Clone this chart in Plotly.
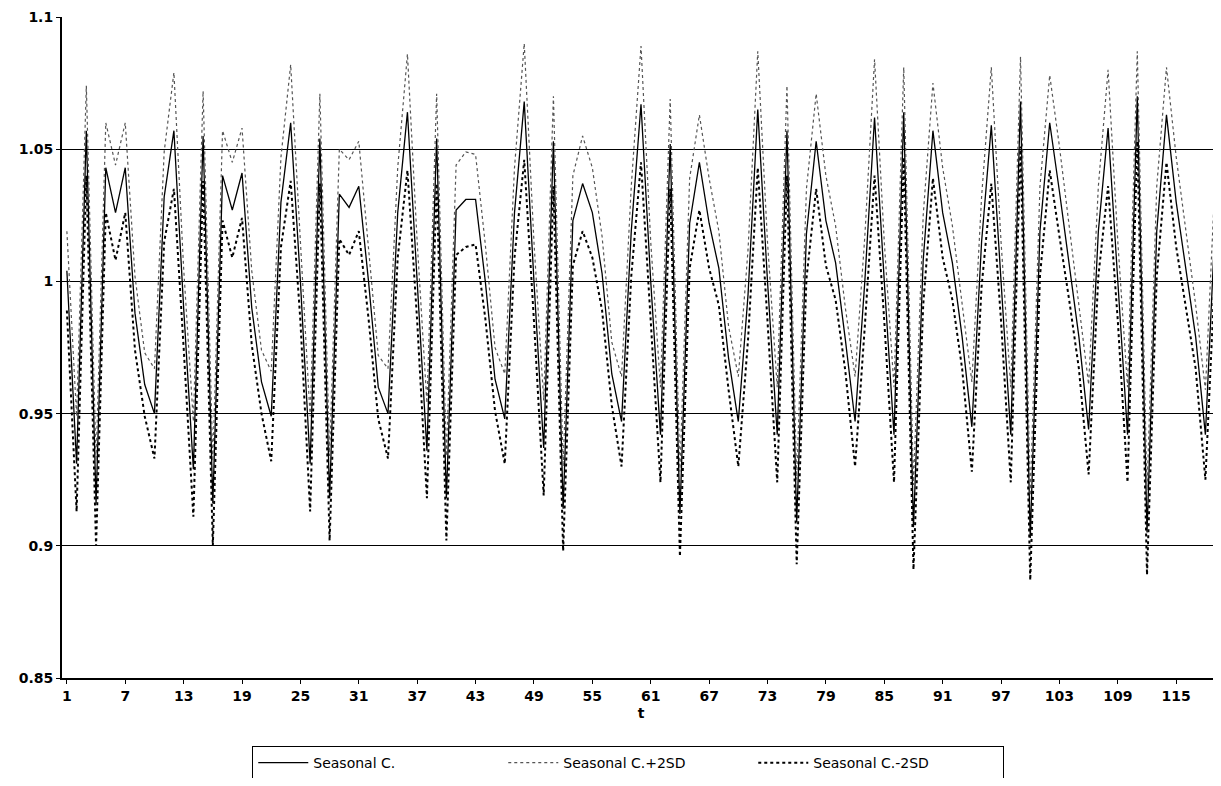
import plotly.graph_objects as go

t = list(range(1, 120))

seasonal = [
    1.004, 0.931, 1.057, 0.916, 1.043, 1.026, 1.043, 0.988, 0.961, 0.950, 1.032, 1.057,
    0.990, 0.929, 1.055, 0.916, 1.040, 1.027, 1.041, 0.990, 0.962, 0.949, 1.030, 1.060,
    1.000, 0.931, 1.054, 0.918, 1.033, 1.028, 1.036, 1.000, 0.960, 0.950, 1.026, 1.064,
    1.000, 0.936, 1.054, 0.918, 1.027, 1.031, 1.031, 1.000, 0.963, 0.948, 1.026, 1.068,
    1.000, 0.937, 1.053, 0.914, 1.023, 1.037, 1.026, 1.003, 0.965, 0.947, 1.019, 1.067,
    1.000, 0.942, 1.052, 0.912, 1.022, 1.045, 1.022, 1.005, 0.971, 0.947, 0.995, 1.065,
    1.000, 0.942, 1.057, 0.909, 1.018, 1.053, 1.023, 1.007, 0.978, 0.947, 1.000, 1.062,
    1.000, 0.942, 1.064, 0.907, 1.008, 1.057, 1.026, 1.007, 0.979, 0.945, 1.015, 1.059,
    1.000, 0.942, 1.068, 0.903, 1.019, 1.060, 1.034, 1.007, 0.979, 0.944, 1.019, 1.058,
    1.000, 0.942, 1.070, 0.905, 1.019, 1.063, 1.030, 1.004, 0.979, 0.942, 1.022,
]

upper = [
    1.019, 0.949, 1.074, 0.932, 1.060, 1.044, 1.060, 1.002, 0.973, 0.967, 1.049, 1.079,
    1.005, 0.947, 1.072, 0.932, 1.057, 1.045, 1.058, 1.004, 0.974, 0.966, 1.047, 1.082,
    1.015, 0.949, 1.071, 0.934, 1.050, 1.046, 1.053, 1.014, 0.972, 0.967, 1.043, 1.086,
    1.015, 0.954, 1.071, 0.934, 1.044, 1.049, 1.048, 1.014, 0.975, 0.965, 1.043, 1.090,
    1.015, 0.955, 1.070, 0.930, 1.040, 1.055, 1.043, 1.017, 0.977, 0.964, 1.036, 1.089,
    1.015, 0.960, 1.069, 0.928, 1.039, 1.063, 1.039, 1.019, 0.983, 0.964, 1.012, 1.087,
    1.015, 0.960, 1.074, 0.925, 1.035, 1.071, 1.040, 1.021, 0.990, 0.964, 1.017, 1.084,
    1.015, 0.960, 1.081, 0.923, 1.025, 1.075, 1.043, 1.021, 0.991, 0.962, 1.032, 1.081,
    1.015, 0.960, 1.085, 0.919, 1.036, 1.078, 1.051, 1.021, 0.991, 0.961, 1.036, 1.080,
    1.015, 0.960, 1.087, 0.921, 1.036, 1.081, 1.047, 1.018, 0.991, 0.959, 1.039,
]

lower = [
    0.989, 0.913, 1.040, 0.900, 1.026, 1.008, 1.026, 0.974, 0.949, 0.933, 1.015, 1.035,
    0.975, 0.911, 1.038, 0.900, 1.023, 1.009, 1.024, 0.976, 0.950, 0.932, 1.013, 1.038,
    0.985, 0.913, 1.037, 0.902, 1.016, 1.010, 1.019, 0.986, 0.948, 0.933, 1.009, 1.042,
    0.985, 0.918, 1.037, 0.902, 1.010, 1.013, 1.014, 0.986, 0.951, 0.931, 1.009, 1.046,
    0.985, 0.919, 1.036, 0.898, 1.006, 1.019, 1.009, 0.989, 0.953, 0.930, 1.002, 1.045,
    0.985, 0.924, 1.035, 0.896, 1.005, 1.027, 1.005, 0.991, 0.959, 0.930, 0.978, 1.043,
    0.985, 0.924, 1.040, 0.893, 1.001, 1.035, 1.006, 0.993, 0.966, 0.930, 0.983, 1.040,
    0.985, 0.924, 1.047, 0.891, 0.991, 1.039, 1.009, 0.993, 0.967, 0.928, 0.998, 1.037,
    0.985, 0.924, 1.051, 0.887, 1.002, 1.042, 1.017, 0.993, 0.967, 0.927, 1.002, 1.036,
    0.985, 0.924, 1.053, 0.889, 1.002, 1.045, 1.013, 0.990, 0.967, 0.925, 1.005,
]

x_ticks = list(range(1, 120, 6))
y_ticks = [0.85, 0.9, 0.95, 1.0, 1.05, 1.1]
y_labels = ["0.85", "0.9", "0.95", "1", "1.05", "1.1"]

fig = go.Figure()
fig.add_trace(go.Scatter(x=t, y=seasonal, mode="lines", name="Seasonal C.",
                         line=dict(color="black", width=1.3)))
fig.add_trace(go.Scatter(x=t, y=upper, mode="lines", name="Seasonal C.+2SD",
                         line=dict(color="#555555", width=1.2, dash="dot")))
fig.add_trace(go.Scatter(x=t, y=lower, mode="lines", name="Seasonal C.-2SD",
                         line=dict(color="black", width=2, dash="dot")))

# page body has an 8px margin, so the figure is sized and padded to land on the same pixels
fig.update_layout(
    width=1212, height=770,
    margin=dict(l=54, r=0, t=9, b=100, autoexpand=False),
    paper_bgcolor="white", plot_bgcolor="white",
    font=dict(family="DejaVu Sans", size=14, color="black"),
    showlegend=True,
    legend=dict(orientation="h", x=0.489, xanchor="center", y=-0.103, yanchor="top",
                bordercolor="black", borderwidth=1, font=dict(size=14),
                entrywidth=185, entrywidthmode="pixels", itemwidth=50),
)
fig.update_xaxes(range=[0.5, 119.5], tickvals=x_ticks,
                 ticktext=[f"<b>{v}</b>" for v in x_ticks], showgrid=False,
                 showline=True, linecolor="black", linewidth=1.5,
                 ticks="outside", ticklen=4, tickcolor="black", automargin=False,
                 title=dict(text="<b>t</b>", font=dict(size=14), standoff=6))
fig.update_yaxes(range=[0.85, 1.1], tickvals=y_ticks, ticktext=[f"<b>{s}</b>" for s in y_labels],
                 showgrid=True, gridcolor="black", gridwidth=1, automargin=False,
                 showline=True, linecolor="black", linewidth=2,
                 ticks="outside", ticklen=4, tickcolor="black", zeroline=False)

fig.write_html("out.html")
